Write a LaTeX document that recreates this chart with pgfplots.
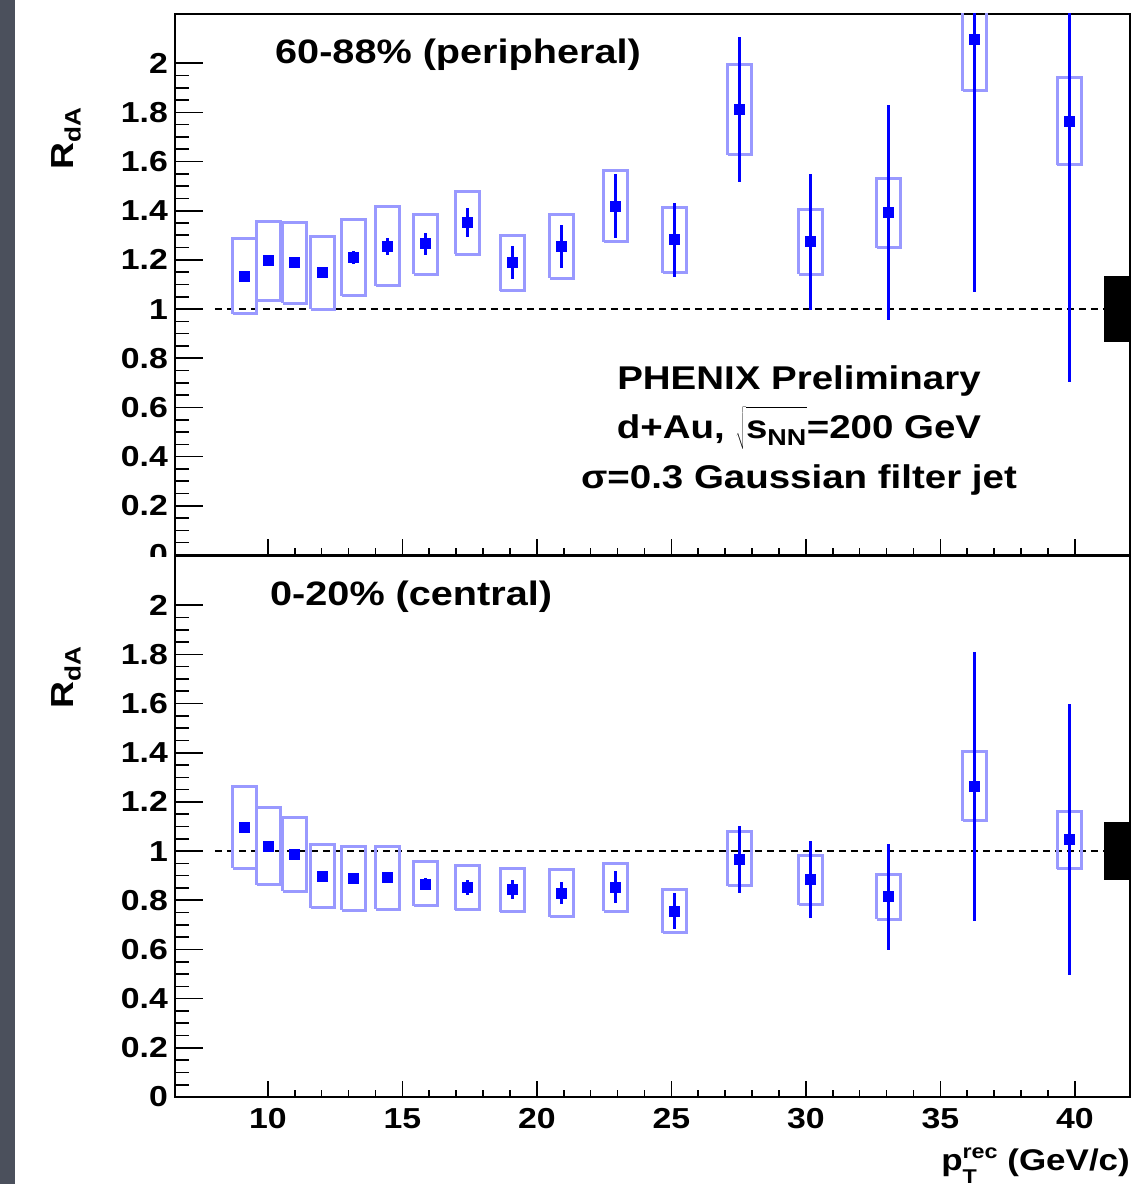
\documentclass[border=0pt]{standalone}
\usepackage{fontspec}
\setmainfont{Liberation Sans}[FakeStretch=1.17]
\usepackage{pgfplots}
\usepackage{pgfplotstable}
\pgfplotsset{compat=1.18}
\definecolor{sysblue}{RGB}{153,153,255}
\definecolor{ptblue}{RGB}{0,0,255}
\definecolor{strip}{RGB}{75,80,92}

% systematic boxes: x, side (-1/+1), y ; nan rows separate boxes
\pgfplotstableread{
x s y
9.145 -1 0.980
9.145 1 0.980
9.145 1 1.287
9.145 -1 1.287
9.145 -1 0.980
9.145 0 nan
10.037 -1 1.036
10.037 1 1.036
10.037 1 1.356
10.037 -1 1.356
10.037 -1 1.036
10.037 0 nan
11.004 -1 1.024
11.004 1 1.024
11.004 1 1.352
11.004 -1 1.352
11.004 -1 1.024
11.004 0 nan
12.045 -1 1.000
12.045 1 1.000
12.045 1 1.296
12.045 -1 1.296
12.045 -1 1.000
12.045 0 nan
13.197 -1 1.054
13.197 1 1.054
13.197 1 1.366
13.197 -1 1.366
13.197 -1 1.054
13.197 0 nan
14.461 -1 1.094
14.461 1 1.094
14.461 1 1.418
14.461 -1 1.418
14.461 -1 1.094
14.461 0 nan
15.874 -1 1.142
15.874 1 1.142
15.874 1 1.385
15.874 -1 1.385
15.874 -1 1.142
15.874 0 nan
17.416 -1 1.223
17.416 1 1.223
17.416 1 1.479
17.416 -1 1.479
17.416 -1 1.223
17.416 0 nan
19.089 -1 1.074
19.089 1 1.074
19.089 1 1.298
19.089 -1 1.298
19.089 -1 1.074
19.089 0 nan
20.929 -1 1.125
20.929 1 1.125
20.929 1 1.385
20.929 -1 1.385
20.929 -1 1.125
20.929 0 nan
22.937 -1 1.274
22.937 1 1.274
22.937 1 1.563
22.937 -1 1.563
22.937 -1 1.274
22.937 0 nan
25.130 -1 1.148
25.130 1 1.148
25.130 1 1.412
25.130 -1 1.412
25.130 -1 1.148
25.130 0 nan
27.546 -1 1.628
27.546 1 1.628
27.546 1 1.996
27.546 -1 1.996
27.546 -1 1.628
27.546 0 nan
30.186 -1 1.142
30.186 1 1.142
30.186 1 1.405
30.186 -1 1.405
30.186 -1 1.142
30.186 0 nan
33.086 -1 1.250
33.086 1 1.250
33.086 1 1.533
33.086 -1 1.533
33.086 -1 1.250
33.086 0 nan
36.283 -1 1.888
36.283 1 1.888
36.283 1 2.310
36.283 -1 2.310
36.283 -1 1.888
36.283 0 nan
39.796 -1 1.587
39.796 1 1.587
39.796 1 1.942
39.796 -1 1.942
39.796 -1 1.587
}\sysperiph

\pgfplotstableread{
x s y
9.145 -1 0.931
9.145 1 0.931
9.145 1 1.261
9.145 -1 1.261
9.145 -1 0.931
9.145 0 nan
10.037 -1 0.863
10.037 1 0.863
10.037 1 1.176
10.037 -1 1.176
10.037 -1 0.863
10.037 0 nan
11.004 -1 0.836
11.004 1 0.836
11.004 1 1.136
11.004 -1 1.136
11.004 -1 0.836
11.004 0 nan
12.045 -1 0.769
12.045 1 0.769
12.045 1 1.027
12.045 -1 1.027
12.045 -1 0.769
12.045 0 nan
13.197 -1 0.759
13.197 1 0.759
13.197 1 1.018
13.197 -1 1.018
13.197 -1 0.759
13.197 0 nan
14.461 -1 0.763
14.461 1 0.763
14.461 1 1.018
14.461 -1 1.018
14.461 -1 0.763
14.461 0 nan
15.874 -1 0.777
15.874 1 0.777
15.874 1 0.959
15.874 -1 0.959
15.874 -1 0.777
15.874 0 nan
17.416 -1 0.761
17.416 1 0.761
17.416 1 0.943
17.416 -1 0.943
17.416 -1 0.761
17.416 0 nan
19.089 -1 0.753
19.089 1 0.753
19.089 1 0.931
19.089 -1 0.931
19.089 -1 0.753
19.089 0 nan
20.929 -1 0.733
20.929 1 0.733
20.929 1 0.924
20.929 -1 0.924
20.929 -1 0.733
20.929 0 nan
22.937 -1 0.755
22.937 1 0.755
22.937 1 0.951
22.937 -1 0.951
22.937 -1 0.755
22.937 0 nan
25.130 -1 0.668
25.130 1 0.668
25.130 1 0.842
25.130 -1 0.842
25.130 -1 0.668
25.130 0 nan
27.546 -1 0.859
27.546 1 0.859
27.546 1 1.079
27.546 -1 1.079
27.546 -1 0.859
27.546 0 nan
30.186 -1 0.781
30.186 1 0.781
30.186 1 0.981
30.186 -1 0.981
30.186 -1 0.781
30.186 0 nan
33.086 -1 0.722
33.086 1 0.722
33.086 1 0.906
33.086 -1 0.906
33.086 -1 0.722
33.086 0 nan
36.283 -1 1.124
36.283 1 1.124
36.283 1 1.403
36.283 -1 1.403
36.283 -1 1.124
36.283 0 nan
39.796 -1 0.929
39.796 1 0.929
39.796 1 1.162
39.796 -1 1.162
39.796 -1 0.929
}\syscentral

\pgfplotstableread{
x y e
9.145 1.134 0.0
10.037 1.198 0.0
11.004 1.190 0.0
12.045 1.147 0.0
13.197 1.209 0.027
14.461 1.256 0.035
15.874 1.266 0.045
17.416 1.351 0.058
19.089 1.188 0.067
20.929 1.255 0.088
22.937 1.418 0.130
25.130 1.281 0.149
27.546 1.812 0.294
30.186 1.273 0.275
33.086 1.394 0.437
36.283 2.098 1.030
39.796 1.762 1.060
}\periph

\pgfplotstableread{
x y e
9.145 1.097 0.0
10.037 1.019 0.0
11.004 0.985 0.0
12.045 0.897 0.0
13.197 0.889 0.0
14.461 0.893 0.0
15.874 0.865 0.024
17.416 0.852 0.030
19.089 0.843 0.038
20.929 0.829 0.046
22.937 0.853 0.065
25.130 0.755 0.073
27.546 0.967 0.137
30.186 0.883 0.156
33.086 0.814 0.216
36.283 1.263 0.548
39.796 1.047 0.550
}\central

\pgfplotsset{
  panel/.style={
    scale only axis, width=955bp, height=541bp, anchor=south west,
    xmin=6.55, xmax=42.05, ymin=0, ymax=2.2,
    axis line style={line width=2bp},
    tick align=inside, tick pos=left,
    xtick={10,15,20,25,30,35,40}, minor x tick num=4,
    ytick={0,0.2,0.4,0.6,0.8,1,1.2,1.4,1.6,1.8,2},
    yticklabels={0,0.2,0.4,0.6,0.8,1,1.2,1.4,1.6,1.8,2},
    minor y tick num=3,
    every tick/.style={line width=1.6bp, black},
    major x tick style={/pgfplots/major tick length=16bp},
    minor x tick style={/pgfplots/minor tick length=7bp},
    major y tick style={/pgfplots/major tick length=28bp},
    minor y tick style={/pgfplots/minor tick length=14bp},
    ticklabel style={font=\fontsize{29}{29}\selectfont\bfseries},
    yticklabel style={inner sep=0pt, anchor=east, xshift=-7bp},
    xticklabel style={inner sep=0pt, anchor=north, yshift=-11bp},
    unbounded coords=jump,
    clip=true,
  },
  sys/.style={draw=sysblue, line width=3bp, line join=miter, mark=none},
  pts/.style={ptblue, only marks, mark=square*, mark size=5bp,
    mark options={draw=ptblue, fill=ptblue, line width=0pt},
    error bars/.cd, y dir=both, y explicit, error mark=none,
    error bar style={line width=3bp, ptblue}},
  unity/.style={black, line width=1.5bp, dash pattern=on 7.5bp off 4.5bp},
}

\begin{document}
\begin{tikzpicture}[x=1bp,y=1bp]
  \path[use as bounding box] (0,0) rectangle (1141,1184);
  \fill[white] (0,0) rectangle (1141,1184);
  \fill[strip] (0,0) rectangle (15,1184);

  % top panel: peripheral
  \begin{axis}[panel, at={(175bp,629bp)}, xticklabels={}]
    \addplot[unity] coordinates {(8.03,1) (41.08,1)};
    \addplot[sys] table[x expr=\thisrow{x}+0.45*\thisrow{s}, y=y] {\sysperiph};
    \addplot[pts] table[x=x, y=y, y error=e] {\periph};
    \addplot[fill=black, draw=none] coordinates {(41.08,0.866) (42.05,0.866) (42.05,1.134) (41.08,1.134)} -- cycle;
  \end{axis}
  % the top panel's "0" is cut at the panel edge in the reference
  \fill[white] (120,600) rectangle (171,627);

  % bottom panel: central
  \begin{axis}[panel, at={(175bp,87bp)}, xticklabels={10,15,20,25,30,35,40}]
    \addplot[unity] coordinates {(8.03,1) (41.08,1)};
    \addplot[sys] table[x expr=\thisrow{x}+0.45*\thisrow{s}, y=y] {\syscentral};
    \addplot[pts] table[x=x, y=y, y error=e] {\central};
    \addplot[fill=black, draw=none] coordinates {(41.08,0.882) (42.05,0.882) (42.05,1.118) (41.08,1.118)} -- cycle;
  \end{axis}

  \begin{scope}[font=\fontsize{34}{34}\selectfont\bfseries]
    \node[anchor=west, inner sep=0pt] at (275,1129) {60-88\% (peripheral)};
    \node[anchor=west, inner sep=0pt] at (270,587) {0-20\% (central)};
  \end{scope}
  \begin{scope}[font=\fontsize{33}{33}\selectfont\bfseries]
    \node[inner sep=0pt] at (799,803) {PHENIX Preliminary};
    \node[inner sep=0pt] at (799,756) {d+Au, $\sqrt{\rule[-10bp]{0pt}{40bp}\mbox{s\textsubscript{NN}}}$=200 GeV};
    \node[inner sep=0pt] at (799,704) {σ=0.3 Gaussian filter jet};
  \end{scope}

  \node[rotate=90, inner sep=0pt, font=\fontsize{32}{32}\selectfont\bfseries] at (66,1046) {R\textsubscript{dA}};
  \node[rotate=90, inner sep=0pt, font=\fontsize{32}{32}\selectfont\bfseries] at (66,507) {R\textsubscript{dA}};

  \node[anchor=base east, inner sep=0pt, font=\fontsize{30}{30}\selectfont\bfseries] at (1130,13)
    {p\rlap{\raisebox{-0.42em}{\fontsize{20}{20}\selectfont T}}\raisebox{0.42em}{\fontsize{20}{20}\selectfont rec} (GeV/c)};
\end{tikzpicture}
\end{document}
